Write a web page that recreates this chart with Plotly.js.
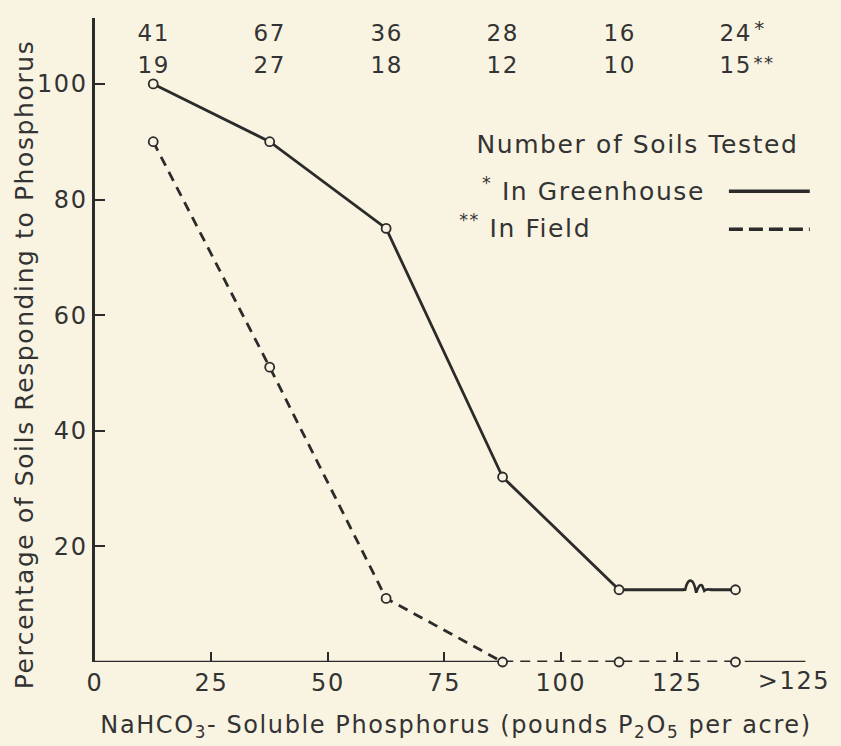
<!DOCTYPE html>
<html>
<head>
<meta charset="utf-8">
<script src="https://cdn.plot.ly/plotly-3.0.1.min.js"></script>
<style>
  html, body { margin: 0; padding: 0; background: #f9f4e1; }
  #chart { width: 841px; height: 746px; }
  #chart text { letter-spacing: 1.6px; }
</style>
</head>
<body>
<div id="chart"></div>
<script>
// ---- data ----
const phosphorusClasses = [12.5, 37.5, 62.5, 87.5, 112.5, 137.5];
const greenhousePct = [100, 90, 75, 32, 12.5, 12.5];
const fieldPct = [90, 51, 11, 0, 0, 0];
const greenhouseCounts = ["41", "67", "36", "28", "16", "24"];
const fieldCounts = ["19", "27", "18", "12", "10", "15"];
const xTickVals = [0, 25, 50, 75, 100, 125];
const xTickText = ["0", "25", "50", "75", "100", "125"];
const yTickVals = [20, 40, 60, 80, 100];
const yTickText = ["20", "40", "60", "80", "100"];

const BG = "#f9f4e1";
const INK = "#2b2b2b";
const TXT = "#333333";
const FONT = "DejaVu Sans";

const markerStyle = { symbol: "circle", size: 9, color: BG, line: { color: INK, width: 1.8 } };

const traces = [
  {
    x: phosphorusClasses, y: greenhousePct, type: "scatter", mode: "lines+markers",
    name: "In Greenhouse", line: { color: INK, width: 2.8 }, marker: markerStyle, cliponaxis: false
  },
  {
    x: phosphorusClasses, y: fieldPct, type: "scatter", mode: "lines+markers",
    name: "In Field", line: { color: INK, width: 2.8, dash: "10px,7px" }, marker: markerStyle, cliponaxis: false
  }
];

const annotations = [];
phosphorusClasses.forEach((xv, i) => {
  annotations.push({ x: xv, y: 0.977, xref: "x", yref: "paper", text: greenhouseCounts[i], showarrow: false,
    xanchor: "center", yanchor: "middle", font: { family: FONT, size: 23, color: TXT } });
  annotations.push({ x: xv, y: 0.927, xref: "x", yref: "paper", text: fieldCounts[i], showarrow: false,
    xanchor: "center", yanchor: "middle", font: { family: FONT, size: 23, color: TXT } });
});
const lastX = phosphorusClasses[phosphorusClasses.length - 1];
annotations.push({ x: lastX, y: 0.977, xref: "x", yref: "paper", text: "*", showarrow: false, xanchor: "left",
  yanchor: "middle", xshift: 18, yshift: 5, font: { family: FONT, size: 20, color: TXT } });
annotations.push({ x: lastX, y: 0.927, xref: "x", yref: "paper", text: "**", showarrow: false, xanchor: "left",
  yanchor: "middle", xshift: 18, yshift: 3, font: { family: FONT, size: 18, color: TXT } });

// ">125" tick label
annotations.push({ x: 150, y: 0, xref: "x", yref: "y", text: ">125", showarrow: false, xanchor: "center",
  yanchor: "top", yshift: -3, font: { family: FONT, size: 24, color: TXT } });

// legend text
annotations.push({ x: 0.752, y: 0.803, xref: "paper", yref: "paper", text: "Number of Soils Tested", showarrow: false,
  xanchor: "center", yanchor: "middle", font: { family: FONT, size: 25, color: TXT } });
annotations.push({ x: 0.550, y: 0.734, xref: "paper", yref: "paper", text: "<sup>*</sup> In Greenhouse", showarrow: false,
  xanchor: "left", yanchor: "middle", font: { family: FONT, size: 25, color: TXT } });
annotations.push({ x: 0.514, y: 0.676, xref: "paper", yref: "paper", text: "<sup>**</sup> In Field", showarrow: false,
  xanchor: "left", yanchor: "middle", font: { family: FONT, size: 25, color: TXT } });

// y axis title
annotations.push({ x: 0, y: 0.461, xref: "paper", yref: "paper", xshift: -71, text: "Percentage of Soils Responding to Phosphorus",
  textangle: -90, showarrow: false, xanchor: "center", yanchor: "middle", font: { family: FONT, size: 25, color: TXT } });

const shapes = [
  // x axis segments (the field line runs along the axis between)
  { type: "line", xref: "x", yref: "y", x0: 0, x1: 87.5, y0: 0, y1: 0, line: { color: INK, width: 2.6 }, layer: "below" },
  { type: "line", xref: "x", yref: "y", x0: 139.5, x1: 152.5, y0: 0, y1: 0, line: { color: INK, width: 2.6 }, layer: "below" },
  // legend samples
  { type: "line", xref: "paper", yref: "paper", x0: 0.878, x1: 0.99, y0: 0.731, y1: 0.731, line: { color: INK, width: 3.6 } },
  { type: "line", xref: "paper", yref: "paper", x0: 0.878, x1: 0.99, y0: 0.672, y1: 0.672, line: { color: INK, width: 3.6, dash: "14px,6px" } },
  // break mark on greenhouse line
  { type: "rect", xref: "x", yref: "y", xsizemode: "pixel", ysizemode: "pixel", xanchor: 129.5, yanchor: 12.5,
    x0: -14, x1: 12, y0: -3, y1: 3, fillcolor: BG, line: { width: 0 } },
  { type: "path", xref: "x", yref: "y", xsizemode: "pixel", ysizemode: "pixel", xanchor: 129.5, yanchor: 12.5,
    path: "M -16 0 L -13 0 Q -11 10 -7 9 Q -4 8 -2 -3 Q 1 7 4 4 L 6 -1 Q 8 1 13 0", line: { color: INK, width: 2.6 } }
];

const layout = {
  width: 841, height: 746,
  paper_bgcolor: BG, plot_bgcolor: BG,
  margin: { l: 95, r: 24, t: 18, b: 84 },
  showlegend: false,
  font: { family: FONT, color: TXT },
  xaxis: {
    range: [0, 155], showgrid: false, zeroline: false, showline: false,
    tickvals: xTickVals, ticktext: xTickText, ticks: "inside", ticklen: 10, tickwidth: 2, tickcolor: INK,
    ticklabelstandoff: 4,
    tickfont: { family: FONT, size: 24, color: TXT },
    title: { text: "NaHCO<sub>3</sub>- Soluble Phosphorus (pounds P<sub>2</sub>O<sub>5</sub> per acre)",
      font: { family: FONT, size: 24, color: TXT }, standoff: 20 }
  },
  yaxis: {
    range: [0, 111.4], showgrid: false, zeroline: false, showline: true, linecolor: INK, linewidth: 2.6,
    tickvals: yTickVals, ticktext: yTickText, ticks: "inside", ticklen: 10, tickwidth: 2, tickcolor: INK,
    tickfont: { family: FONT, size: 24, color: TXT }
  },
  annotations: annotations,
  shapes: shapes
};

Plotly.newPlot("chart", traces, layout, { displayModeBar: false, staticPlot: true });
</script>
</body>
</html>
